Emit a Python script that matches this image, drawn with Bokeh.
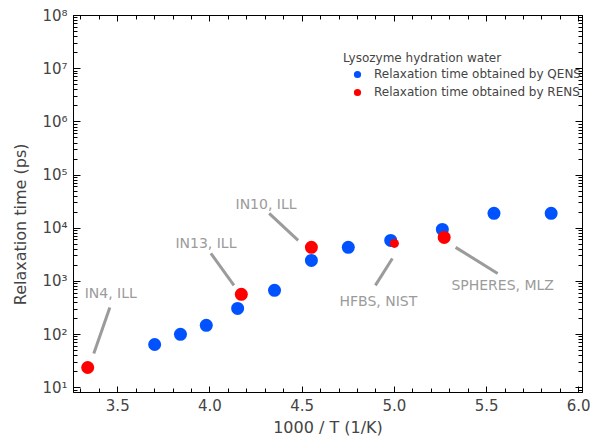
from bokeh.plotting import figure
from bokeh.models import (Range1d, LinearAxis, LogAxis, FixedTicker, CustomJSTickFormatter,
                          Legend, LegendItem, ColumnDataSource)
from bokeh.core.properties import value
from bokeh.embed import file_html
from bokeh.resources import INLINE

# ---------------- data ----------------
qens_x = [3.70, 3.84, 3.98, 4.15, 4.35, 4.55, 4.75, 4.98, 5.26, 5.54, 5.85]
qens_y = [65, 101, 149, 310, 678, 2480, 4360, 5900, 9500, 19000, 19000]

rens_x = [3.337, 4.17, 4.55, 5.00, 5.27]
rens_y = [24, 570, 4360, 5180, 6710]

ann_text = ["IN4, ILL", "IN13, ILL", "IN10, ILL", "HFBS, NIST", "SPHERES, MLZ"]
ann_tx = [3.462, 3.978, 4.304, 4.913, 5.587]
ann_ty = [594, 5180, 28000, 421, 841]
ann_x0 = [3.457, 4.005, 4.321, 4.897, 5.332]
ann_y0 = [324, 3360, 18970, 841, 4360]
ann_x1 = [3.370, 4.130, 4.478, 4.989, 5.560]
ann_y1 = [44, 841, 5900, 2700, 1410]

x_major = [3.5, 4.0, 4.5, 5.0, 5.5, 6.0]
y_major = [1e1, 1e2, 1e3, 1e4, 1e5, 1e6, 1e7, 1e8]

# ---------------- styles ----------------
FONT = "DejaVu Sans"
BLUE = "#0052ff"
RED = "#ff0000"
GREY = "#9b9b9b"
rens_sizes = [13, 13, 13, 9, 13]

x_minor = [round(3.3 + 0.1 * i, 2) for i in range(28)]
y_minor = [k * 10 ** e for e in range(0, 8) for k in range(2, 10)]

NB = "\u00a0" * 8
p = figure(width=590, height=439, output_backend="svg", toolbar_location=None,
           x_range=Range1d(3.26, 6.02), y_range=Range1d(10 ** 0.91, 1e8),
           y_axis_type="log",
           min_border_left=73, min_border_right=8, min_border_top=15, min_border_bottom=47,
           x_axis_label="1000 / T (1/K)", y_axis_label="Relaxation time (ps)" + NB)
p.xgrid.visible = False
p.ygrid.visible = False
p.outline_line_color = "black"
p.background_fill_color = "white"
p.border_fill_color = "white"

xt = FixedTicker(ticks=x_major, minor_ticks=x_minor)
yt = FixedTicker(ticks=y_major, minor_ticks=y_minor)
sup_js = """
const sup = {'0':'\u2070','1':'\u00b9','2':'\u00b2','3':'\u00b3','4':'\u2074','5':'\u2075','6':'\u2076','7':'\u2077','8':'\u2078','9':'\u2079','-':'\u207b'};
const e = Math.round(Math.log10(tick));
return '10' + String(e).split('').map(c => sup[c]).join('');
"""

def style_axis(ax, major_in, minor_in):
    ax.major_tick_in = major_in
    ax.major_tick_out = 0
    ax.minor_tick_in = minor_in
    ax.minor_tick_out = 0
    ax.axis_line_color = "black"
    ax.major_tick_line_color = "black"
    ax.minor_tick_line_color = "black"

xa = p.xaxis[0]
xa.ticker = xt
xa.formatter = CustomJSTickFormatter(code="return tick.toFixed(1);")
style_axis(xa, 6, 4)
xa.major_label_text_font = FONT
xa.major_label_text_font_size = "15px"
xa.major_label_standoff = 6
xa.axis_label_text_font = FONT
xa.axis_label_text_font_size = "16px"
xa.axis_label_text_font_style = "normal"
xa.axis_label_standoff = 4

ya = p.yaxis[0]
ya.ticker = yt
ya.formatter = CustomJSTickFormatter(code=sup_js)
style_axis(ya, 7, 4)
ya.major_label_text_font = FONT
ya.major_label_text_font_size = "15px"
ya.major_label_standoff = 6
ya.axis_label_text_font = FONT
ya.axis_label_text_font_size = "16px"
ya.axis_label_text_font_style = "normal"
ya.axis_label_standoff = 9

empty = CustomJSTickFormatter(code="return '';")
top = LinearAxis(ticker=xt, formatter=empty, major_label_text_font_size="0px", major_label_standoff=0)
style_axis(top, 6, 4)
right = LogAxis(ticker=yt, formatter=empty, major_label_text_font_size="0px", major_label_standoff=0)
style_axis(right, 7, 4)
p.add_layout(top, "above")
p.add_layout(right, "right")

# annotations
p.segment(x0=ann_x0, y0=ann_y0, x1=ann_x1, y1=ann_y1, line_color=GREY, line_width=3)
p.text(x=ann_tx, y=ann_ty, text=ann_text, text_font=value(FONT), text_font_size="14px",
       text_color=GREY, text_align="center", text_baseline="middle")

# data
src_q = ColumnDataSource(dict(x=qens_x, y=qens_y))
src_r = ColumnDataSource(dict(x=rens_x, y=rens_y, s=rens_sizes))
rq = p.scatter("x", "y", source=src_q, size=13, fill_color=BLUE, line_color=None)
rr = p.scatter("x", "y", source=src_r, size="s", fill_color=RED, line_color=None)

legend = Legend(items=[LegendItem(label="Relaxation time obtained by QENS", renderers=[rq]),
                       LegendItem(label="Relaxation time obtained by RENS", renderers=[rr])],
                title="Lysozyme hydration water", location=(270, 291),
                border_line_color=None, background_fill_alpha=0, padding=2, margin=0,
                glyph_width=28, glyph_height=18, spacing=-4, label_standoff=3, title_standoff=0,
                label_width=20,
                label_text_font=FONT, label_text_font_size="12px",
                title_text_font=FONT, title_text_font_size="12px", title_text_font_style="normal")
p.add_layout(legend)

open("out.html", "w").write(file_html(p, INLINE))
